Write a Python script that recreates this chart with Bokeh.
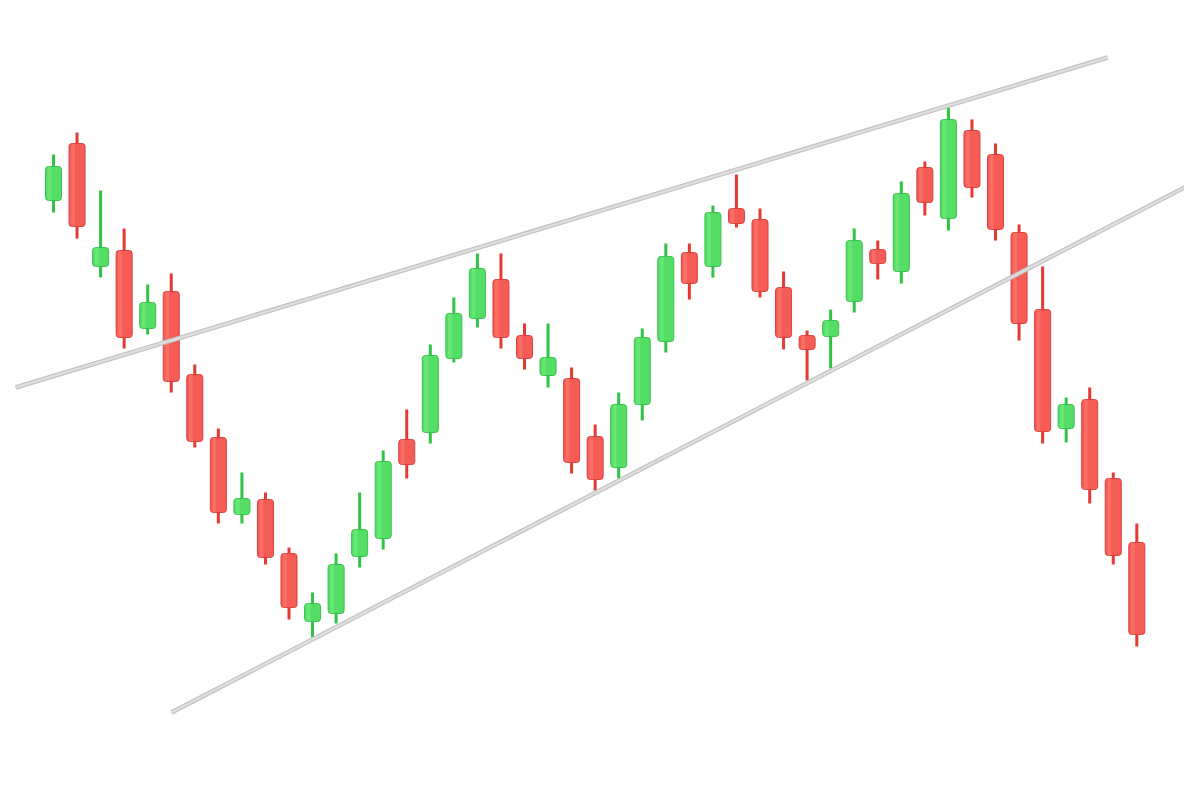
import numpy as np
from bokeh.plotting import figure
from bokeh.models import Range1d, ColumnDataSource
from bokeh.embed import file_html
from bokeh.resources import INLINE

# OHLC values (arbitrary price units)
opens = [60.0, 65.7, 53.4, 55.0, 47.2, 50.9, 42.6, 36.3, 28.6, 30.1,
         24.7, 17.9, 18.7, 24.4, 26.2, 36.1, 36.8, 44.2, 48.2, 52.1,
         46.5, 42.5, 42.2, 36.4, 33.3, 39.6, 45.9, 54.8, 53.4, 59.2,
         58.1, 51.3, 46.5, 46.4, 49.9, 55.1, 52.9, 63.3, 58.2, 67.0,
         64.6, 56.8, 49.1, 37.2, 40.1, 32.2, 25.8]
highs = [64.6, 66.8, 61.0, 57.2, 51.6, 52.7, 43.6, 37.2, 32.8, 30.8,
         25.3, 20.8, 24.7, 30.8, 35.0, 39.1, 45.6, 50.3, 54.7, 54.7,
         47.7, 47.7, 43.3, 37.6, 40.8, 47.2, 55.7, 55.7, 59.5, 62.6,
         59.2, 52.9, 47.0, 49.1, 57.2, 56.0, 61.9, 63.9, 69.3, 68.1,
         65.7, 57.6, 53.4, 40.3, 41.3, 32.8, 27.7]
lows = [58.8, 56.2, 52.3, 45.2, 46.6, 40.8, 35.3, 27.7, 27.7, 23.6,
        18.1, 16.3, 17.7, 23.3, 25.1, 32.2, 35.7, 43.8, 47.3, 45.2,
        43.1, 41.3, 32.7, 31.0, 32.2, 38.0, 44.8, 50.1, 52.3, 57.3,
        50.3, 45.1, 42.0, 43.2, 48.8, 52.1, 51.7, 58.5, 57.0, 60.3,
        56.0, 46.0, 35.7, 35.8, 29.7, 23.6, 15.4]
closes = [63.4, 57.4, 55.3, 46.3, 49.8, 41.9, 35.9, 28.8, 30.2, 24.3,
          19.3, 19.7, 23.6, 27.1, 33.9, 33.6, 44.5, 48.7, 53.2, 46.3,
          44.2, 44.3, 33.8, 32.1, 39.6, 46.3, 54.4, 51.7, 58.8, 57.7,
          50.9, 46.3, 45.1, 48.0, 56.0, 53.7, 60.7, 59.8, 68.1, 61.3,
          57.1, 47.7, 36.9, 39.6, 31.1, 24.5, 16.6]

# Trend lines (endpoints in index / price units)
upper_trend_x = [-1.61, 44.76]
upper_trend_y = [41.3, 74.3]
lower_trend_x = [5.01, 48.03]
lower_trend_y = [8.8, 61.3]

n = len(opens)
idx = np.arange(n)
o = np.array(opens); c = np.array(closes)
up = c >= o
half = 0.34

GREEN = "#55de66"; GREEN_EDGE = "#38c24c"; GREEN_WICK = "#2fc443"; GREEN_HI = "#7cef8a"
RED = "#f45c55"; RED_EDGE = "#dc413b"; RED_WICK = "#e53a33"; RED_HI = "#ff857e"

src = ColumnDataSource(dict(
    x=idx,
    high=highs, low=lows,
    top=np.maximum(o, c), bottom=np.minimum(o, c),
    left=idx - half, right=idx + half,
    hl=idx - half + 0.09, hr=idx - half + 0.25,
    fill=[GREEN if u else RED for u in up],
    edge=[GREEN_EDGE if u else RED_EDGE for u in up],
    wick=[GREEN_WICK if u else RED_WICK for u in up],
    hi=[GREEN_HI if u else RED_HI for u in up],
))

p = figure(width=1184, height=784, output_backend="svg", toolbar_location=None,
           x_range=Range1d(-2.2505, 48.025), y_range=Range1d(1.6, 80.0),
           min_border=0, background_fill_color="white", border_fill_color="white")
p.axis.visible = False
p.grid.visible = False
p.outline_line_color = None

p.segment(x0="x", y0="high", x1="x", y1="low", source=src, line_color="wick",
          line_width=3)
p.quad(left="left", right="right", top="top", bottom="bottom", source=src,
       fill_color="fill", line_color="edge", line_width=1, border_radius=3)
p.quad(left="hl", right="hr", top="top", bottom="bottom", source=src,
       fill_color="hi", fill_alpha=0.45, line_color=None)

for xs, ys in ((upper_trend_x, upper_trend_y), (lower_trend_x, lower_trend_y)):
    p.line(xs, ys, line_color="#bdbdbd", line_width=4.5)
    p.line(xs, ys, line_color="#dedede", line_width=2.5)

open("out.html", "w").write(file_html(p, INLINE))
